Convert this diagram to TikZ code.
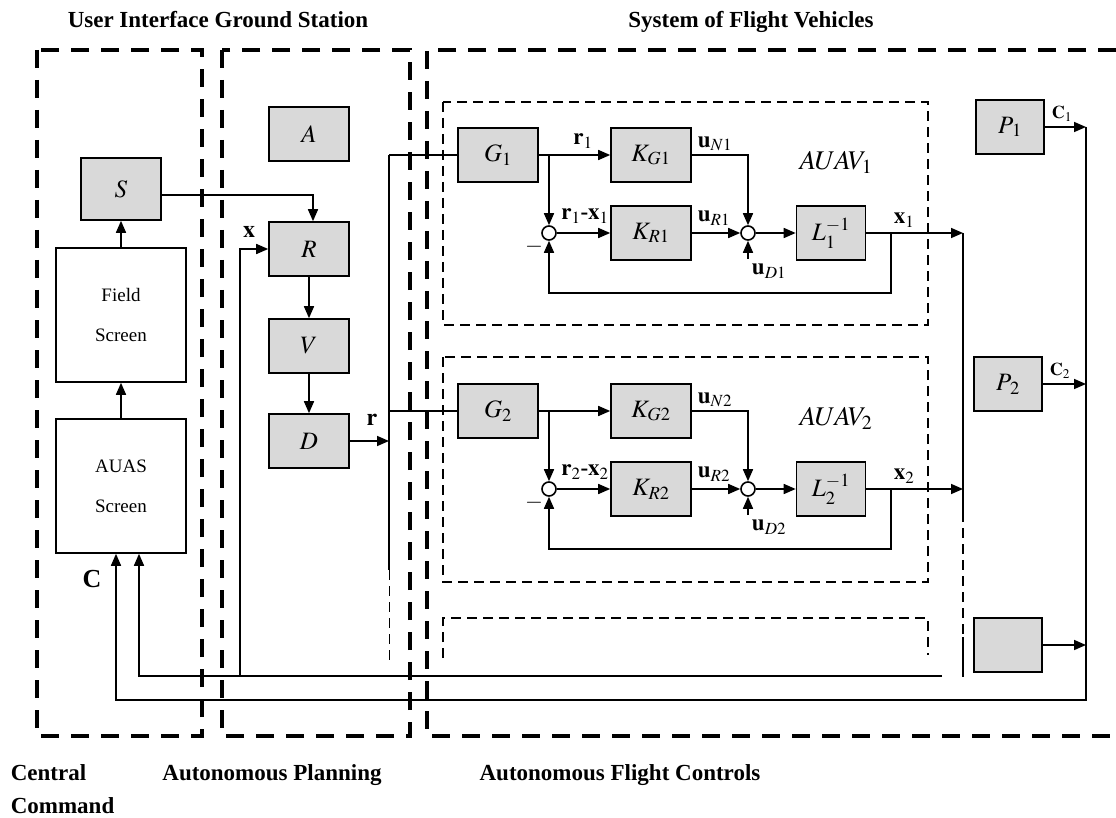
\documentclass[tikz,border=0pt]{standalone}
\usepackage{mathptmx}
\usepackage[no-math]{fontspec}
\setmainfont{Liberation Serif}
\usetikzlibrary{arrows.meta,positioning}
\definecolor{blkgray}{RGB}{217,217,217}

\begin{document}
\begin{tikzpicture}[x=1pt,y=-1pt,line width=1.6pt,>={Triangle[length=12pt,width=10pt]},
	blk/.style={draw,fill=blkgray,minimum width=80pt,minimum height=54pt,inner sep=0pt,
		font=\fontsize{25}{29}\selectfont},
	scrn/.style={draw,fill=white,minimum width=130pt,minimum height=134pt,align=center,
		font=\fontsize{19}{40}\selectfont},
	sumj/.style={draw,circle,fill=white,minimum size=14pt,inner sep=0pt},
	bigbox/.style={line width=3.6pt,dash pattern=on 18pt off 12pt},
	subbox/.style={line width=1.3pt,dash pattern=on 10pt off 6pt},
	lbl/.style={font=\fontsize{23}{27}\selectfont,inner sep=0pt},
	head/.style={font=\fontsize{23}{28}\selectfont\bfseries,inner sep=0pt,anchor=base}]
	\useasboundingbox (0,0) rectangle (1116,818);
	\draw[bigbox] (37,50) rectangle (202,736);
	\draw[bigbox] (222,50) rectangle (410,736);
	\draw[bigbox] (1116,50) -- (427,50) -- (427,736) -- (1116,736);
	\node[head] (h1) at (218,28) {User Interface Ground Station};
	\node[head] (h2) at (751,28) {System of Flight Vehicles};
	\node[head,anchor=base west] (b1) at (10,780) {Central};
	\node[head,anchor=base west] (b2) at (10,813) {Command};
	\node[head] (b3) at (272,780) {Autonomous Planning};
	\node[head] (b4) at (620,780) {Autonomous Flight Controls};
	\node[scrn] (fld) at (121,315) {Field\\Screen};
	\node[scrn] (auas) at (121,486) {AUAS\\Screen};
	\node[blk,minimum height=62pt] (S) at (121,189) {$S$};
	\node[blk] (A) at (309,134) {$A$};
	\node[blk] (R) at (309,249) {$R$};
	\node[blk] (V) at (309,346) {$V$};
	\node[blk] (D) at (309,441) {$D$};
	\draw[->] (auas) to (fld);
	\draw[->] (fld) to (S);
	\draw[->] ([yshift=-6pt]S.east) -| ([xshift=4pt]R.north);
	\draw[->] (R) to (V);
	\draw[->] (V) to (D);
	\coordinate (rtop) at (389,155);
	\coordinate (rmid) at (389,570);
	\coordinate (rlow) at (389,662);
	\draw (rtop) -- (rmid);
	\draw[subbox,line width=1pt] (rmid) -- (rlow);
	\draw[->] (D.east) -- (D.east -| rtop);
	\node[lbl,font=\fontsize{24}{28}\selectfont] (lr) at (372,420) {$\mathbf{r}$};
	\coordinate (xb) at (240,676);
	\draw[->] (xb) |- (R.west);
	\node[lbl,font=\fontsize{24}{28}\selectfont] (lx) at (249,232) {$\mathbf{x}$};
	\coordinate (fb) at (942,676);
	\draw[->] (fb) -| ([xshift=18pt]auas.south);
	\node[head,font=\fontsize{26}{30}\selectfont\bfseries] (lc) at (92,587) {C};
	\draw[subbox] (443,102) rectangle (928,325);
	\node[lbl,font=\fontsize{27}{31}\selectfont] (t1) at (836,162) {$AUAV_1$};
	\node[blk] (G1) at (498,155) {$G_1$};
	\node[blk] (KG1) at (651,155) {$K_{G1}$};
	\node[blk] (KR1) at (651,233) {$K_{R1}$};
	\node[blk,minimum width=69pt] (L1) at (831,233) {$L_1^{-1}$};
	\node[sumj] (s1) at (549,233) {};
	\node[sumj] (j1) at (748,233) {};
	\draw (rtop) -- (G1.west);
	\draw[->] (G1) -- (KG1);
	\draw[->] (G1.east -| s1) -- (s1.north);
	\draw[->] (s1) -- (KR1);
	\draw[->] (KR1) -- (j1);
	\draw[->] (KG1.east) -| (j1.north);
	\draw[->] (j1) -- (L1);
	\coordinate (xt) at (963,233);
	\coordinate (fk1) at (891,233);
	\coordinate (fkb1) at (891,293);
	\coordinate (ud1) at (748,259);
	\draw[->] (L1.east) -- (xt);
	\draw[->] (fk1) -- (fkb1) -| (s1.south);
	\draw[->] (ud1) -- (j1.south);
	\node[lbl] (lr1) at (583,141) {$\mathbf{r}_1$};
	\node[lbl] (lrx1) at (585,216) {$\mathbf{r}_1$\textbf{-}$\mathbf{x}_1$};
	\node[lbl] (lun1) at (715,144) {$\mathbf{u}_{N1}$};
	\node[lbl] (lur1) at (714,218) {$\mathbf{u}_{R1}$};
	\node[lbl] (lud1) at (769,271) {$\mathbf{u}_{D1}$};
	\node[lbl] (lm1) at (534,247) {$-$};
	\node[lbl] (lx1) at (904,220) {$\mathbf{x}_1$};
	\draw[subbox] (443,357) rectangle (928,582);
	\node[lbl,font=\fontsize{27}{31}\selectfont] (t2) at (836,418) {$AUAV_2$};
	\node[blk] (G2) at (498,411) {$G_2$};
	\node[blk] (KG2) at (651,411) {$K_{G2}$};
	\node[blk] (KR2) at (651,489) {$K_{R2}$};
	\node[blk,minimum width=69pt] (L2) at (831,489) {$L_2^{-1}$};
	\node[sumj] (s2) at (549,489) {};
	\node[sumj] (j2) at (748,489) {};
	\draw (G2.west -| rtop) -- (G2.west);
	\draw[->] (G2) -- (KG2);
	\draw[->] (G2.east -| s2) -- (s2.north);
	\draw[->] (s2) -- (KR2);
	\draw[->] (KR2) -- (j2);
	\draw[->] (KG2.east) -| (j2.north);
	\draw[->] (j2) -- (L2);
	\coordinate (xt2) at (963,489);
	\coordinate (fk2) at (891,489);
	\coordinate (fkb2) at (891,549);
	\coordinate (ud2) at (748,515);
	\draw[->] (L2.east) -- (xt2);
	\draw[->] (fk2) -- (fkb2) -| (s2.south);
	\draw[->] (ud2) -- (j2.south);
	\node[lbl] (lx2) at (904,476) {$\mathbf{x}_2$};
	\node[lbl] (lrx2) at (585,472) {$\mathbf{r}_2$\textbf{-}$\mathbf{x}_2$};
	\node[lbl] (lun2) at (715,400) {$\mathbf{u}_{N2}$};
	\node[lbl] (lur2) at (714,474) {$\mathbf{u}_{R2}$};
	\node[lbl] (lud2) at (769,527) {$\mathbf{u}_{D2}$};
	\node[lbl] (lm2) at (534,503) {$-$};
	\draw[subbox] (443,658) -- (443,618) -- (928,618) -- (928,655);
	\coordinate (xm) at (963,512);
	\coordinate (xn) at (963,637);
	\coordinate (xe) at (963,677);
	\draw (xt) -- (xm);
	\draw[subbox,line width=1.2pt] (xm) -- (xn);
	\draw (xn) -- (xe);
	\node[blk,minimum width=68pt] (P1) at (1010,127) {$P_{\mkern2mu 1}$};
	\node[blk,minimum width=68pt] (P2) at (1008,384) {$P_{\mkern2mu 2}$};
	\node[blk,minimum width=68pt] (P3) at (1008,645) {};
	\coordinate (c1) at (1086,127);
	\coordinate (c2) at (1086,384);
	\coordinate (c3) at (1086,645);
	\coordinate (cb) at (1086,700);
	\draw[->] (P1) -- (c1);
	\draw[->] (P2) -- (c2);
	\draw[->] (P3) -- (c3);
	\node[lbl,font=\fontsize{18}{21}\selectfont] (lc1) at (1062,114) {$\mathbf{C}_1$};
	\node[lbl,font=\fontsize{18}{21}\selectfont] (lc2) at (1060,371) {$\mathbf{C}_2$};
	\draw[->] (c1) -- (cb) -| ([xshift=-5pt]auas.south);
\end{tikzpicture}
\end{document}
